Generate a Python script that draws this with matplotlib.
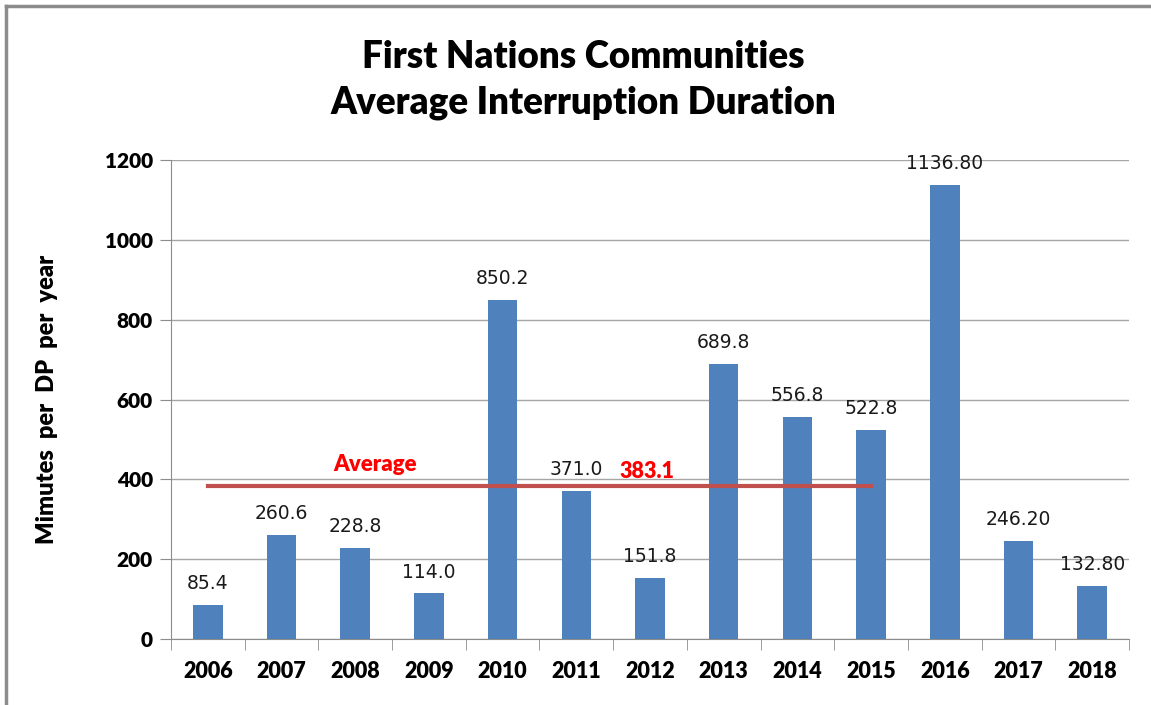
import numpy as np
import matplotlib.pyplot as plt
from matplotlib.lines import Line2D

years = ['2006', '2007', '2008', '2009', '2010', '2011', '2012',
         '2013', '2014', '2015', '2016', '2017', '2018']
values = [85.4, 260.6, 228.8, 114.0, 850.2, 371.0, 151.8,
          689.8, 556.8, 522.8, 1136.80, 246.20, 132.80]
labels = ['85.4', '260.6', '228.8', '114.0', '850.2', '371.0', '151.8',
          '689.8', '556.8', '522.8', '1136.80', '246.20', '132.80']
avg_value = 383.1
avg_span = ('2006', '2015')

W, H = 1151, 705
fig = plt.figure(figsize=(W/100, H/100), dpi=100)
ax = fig.add_axes([171/W, 1 - 639/H, (1129-171)/W, (639-160)/H])

# chart border (only top and left edges are inside the picture)
border = dict(transform=fig.transFigure, color='#8c8c8c', lw=2.5)
fig.lines.append(Line2D([5.5/W, 1], [1 - 6/H, 1 - 6/H], **border))
fig.lines.append(Line2D([5.5/W, 5.5/W], [0, 1 - 6/H], **border))

x = np.arange(len(years))
ax.bar(x, values, width=0.4, color='#4F81BD', zorder=3)

for xi, v, lab in zip(x, values, labels):
    ax.text(xi, v + 30, lab, ha='center', va='bottom', fontsize=13.5,
            family='DejaVu Sans', color='#1a1a1a', zorder=4)

i0, i1 = years.index(avg_span[0]), years.index(avg_span[1])
ax.plot([i0, i1], [avg_value, avg_value], color='#C0504D', lw=3, zorder=5)
ax.text(2.27, avg_value + 28, 'Average', color='red', fontsize=16,
        fontweight='heavy', family='Lato', ha='center', va='bottom')
ax.text(5.96, avg_value + 10, f'{avg_value:.1f}', color='red', fontsize=15.5,
        fontweight='heavy', family='Lato', ha='center', va='bottom')

ax.set_xlim(-0.5, len(years) - 0.5)
ax.set_ylim(0, 1200)
ax.set_yticks(range(0, 1201, 200))
ax.yaxis.grid(True, color='#a6a6a6', lw=1, zorder=0)
ax.set_xticks(x)
ax.set_xticklabels(years, fontsize=15.5, fontweight='heavy', family='Lato')
ax.set_xticks(np.arange(-0.5, len(years), 1), minor=True)
ax.tick_params(axis='x', which='major', length=0, pad=16)
ax.tick_params(axis='x', which='minor', length=8, color='#8c8c8c')
ax.tick_params(axis='y', length=8, color='#8c8c8c', labelsize=15, pad=5)
for t in ax.get_yticklabels():
    t.set_fontweight('heavy')
    t.set_family('Lato')

for s in ['top', 'right']:
    ax.spines[s].set_visible(False)
for s in ['left', 'bottom']:
    ax.spines[s].set_color('#8c8c8c')

ax.set_ylabel('Mimutes  per  DP  per  year', fontsize=17, fontweight='heavy',
              family='Lato', labelpad=34)

fig.text(583/W, 1 - 80/H, 'First Nations Communities\nAverage Interruption Duration',
         ha='center', va='center', fontsize=26.5, fontweight='heavy',
         family='Lato', linespacing=1.4)

fig.savefig('out.png', dpi=100)
